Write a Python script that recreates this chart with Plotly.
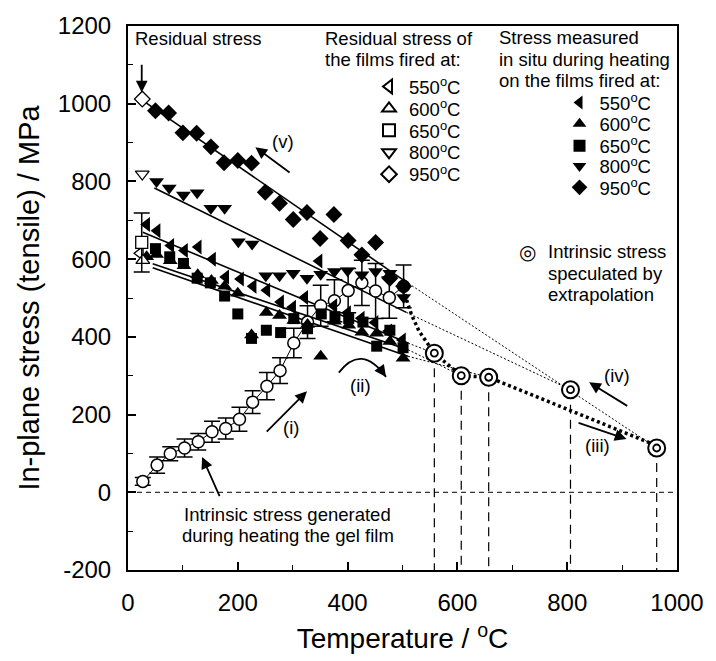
import plotly.graph_objects as go

FONT = "Liberation Sans, Arial, Helvetica, sans-serif"
Y_MIN, Y_MAX = -200, 1200
X_MIN, X_MAX = 0, 1000

# ---------------- data ----------------
# residual stress (open symbols, measured at room temperature)
res550_T, res550_S = [22], [615]
res600_T, res600_S = [27], [597]
res650_T, res650_S, res650_err = [25], [643], [76]
res800_T, res800_S = [26], [819]
res950_T, res950_S = [26], [1012]

# stress measured in situ during heating (filled symbols)
situ550_T = [34, 53, 78, 103, 128, 154, 178, 205, 228, 253, 278, 300, 322, 348, 375, 400, 425, 450, 475, 500]
situ550_S = [689, 673, 635, 622, 631, 600, 554, 549, 530, 520, 490, 476, 501, 595, 480, 462, 448, 437, 415, 392]
situ600_T = [34, 52, 77, 102, 127, 152, 176, 200, 225, 252, 276, 302, 327, 351, 376, 402, 426, 453, 477, 501]
situ600_S = [606, 612, 596, 583, 560, 545, 530, 512, 405, 463, 455, 442, 432, 350, 440, 430, 412, 409, 388, 345]
situ650_T = [50, 76, 101, 126, 150, 176, 200, 225, 252, 278, 302, 327, 352, 377, 402, 428, 453, 477, 501]
situ650_S = [627, 606, 589, 551, 539, 505, 459, 396, 417, 411, 447, 421, 459, 452, 447, 438, 376, 417, 372]
situ800_T = [52, 75, 101, 126, 151, 176, 201, 226, 251, 276, 301, 326, 351, 376, 400, 426, 451, 477, 502]
situ800_S = [800, 783, 765, 771, 731, 731, 645, 639, 557, 557, 564, 551, 561, 568, 570, 560, 568, 564, 501]
situ950_T = [50, 74, 100, 125, 151, 175, 200, 225, 250, 276, 301, 326, 350, 375, 401, 426, 451, 477, 502]
situ950_S = [982, 976, 925, 924, 889, 848, 854, 847, 772, 744, 702, 720, 653, 715, 648, 611, 643, 551, 530]

# intrinsic stress generated during heating the gel film
gel_T = [27, 53, 77, 103, 128, 153, 178, 203, 227, 253, 277, 302, 327, 351, 376, 401, 426, 451, 476, 502]
gel_S = [28, 70, 99, 114, 130, 156, 164, 188, 232, 273, 313, 384, 438, 480, 493, 519, 539, 518, 501, 530]
gel_err = [10, 21, 18, 23, 21, 27, 27, 31, 29, 35, 33, 38, 42, 53, 54, 57, 58, 71, 53, 55]

# intrinsic stress speculated by extrapolation (550, 600, 650, 800, 950 C films)
spec_T = [558, 607, 657, 806, 963]
spec_S = [358, 300, 296, 264, 114]

# linear fits of the in-situ data
fit550_T, fit550_S = [27, 510], [669, 384]
fit600_T, fit600_S = [45, 510], [588, 367]
fit650_T, fit650_S = [45, 510], [578, 350]
fit800_T, fit800_S = [48, 507], [783, 463]
fit950_T, fit950_S = [25, 505], [1010, 543]

# thick dotted path of the intrinsic stress (ii)-(iii)
path_T = [502, 508, 517, 530, 558, 607, 657, 963]
path_S = [525, 492, 455, 415, 358, 300, 296, 120]

y_tickvals = [-200, 0, 200, 400, 600, 800, 1000, 1200]
y_ticktext = ["-200", "0", "200", "400", "600", "800", "1000", "1200"]
x_tickvals = [0, 200, 400, 600, 800, 1000]
labels = ["550<sup>o</sup>C", "600<sup>o</sup>C", "650<sup>o</sup>C", "800<sup>o</sup>C", "950<sup>o</sup>C"]

fig = go.Figure()
K = "black"

def line(x, y, width=1.5, dash="solid"):
    fig.add_trace(go.Scatter(x=x, y=y, mode="lines", line=dict(color=K, width=width, dash=dash),
                             showlegend=False, hoverinfo="skip"))

# fit lines
fits = [(fit550_T, fit550_S), (fit600_T, fit600_S), (fit650_T, fit650_S),
        (fit800_T, fit800_S), (fit950_T, fit950_S)]
for fx, fy in fits:
    line(fx, fy, 1.6)

# thin dotted extrapolations: from end of each fit to its speculated point
for (fx, fy), t, s in zip(fits, spec_T, spec_S):
    line([fx[-1], t], [fy[-1], s], 1, "2px,2px")

# vertical dashed drop lines
vx, vy = [], []
for t, s in zip(spec_T, spec_S):
    vx += [t, t, None]
    vy += [s, Y_MIN, None]
line(vx, vy, 1.2, "9px,6px")

# thick dotted intrinsic path
line(path_T, path_S, 3.5, "3px,3px")

# gel-film intrinsic stress with error bars
fig.add_trace(go.Scatter(x=gel_T, y=gel_S, mode="lines+markers",
                         line=dict(color=K, width=1),
                         marker=dict(symbol="circle", size=12, color="white", line=dict(color=K, width=1.5)),
                         error_y=dict(type="data", array=gel_err, color=K, thickness=1.5, width=8),
                         showlegend=False, hoverinfo="skip"))

# each legend row is its own small legend so the rows sit at the reference spacing
res_legends = ["legend", "legend2", "legend3", "legend4", "legend5"]
situ_legends = ["legend6", "legend7", "legend8", "legend9", "legend10"]

# in situ filled symbols
situ = [(situ550_T, situ550_S, "triangle-left", 13),
        (situ600_T, situ600_S, "triangle-up", 13),
        (situ650_T, situ650_S, "square", 11),
        (situ800_T, situ800_S, "triangle-down", 13),
        (situ950_T, situ950_S, "diamond", 13)]
for (tx, sy, sym, sz), lab, lg in zip(situ, labels, situ_legends):
    fig.add_trace(go.Scatter(x=tx, y=sy, mode="markers", name=lab, legend=lg,
                             marker=dict(symbol=sym, size=sz, color=K, line=dict(width=0)),
                             hoverinfo="skip"))

# residual open symbols
res = [(res550_T, res550_S, "triangle-left", None),
       (res600_T, res600_S, "triangle-up", None),
       (res650_T, res650_S, "square", res650_err),
       (res800_T, res800_S, "triangle-down", None),
       (res950_T, res950_S, "diamond", None)]
for (tx, sy, sym, err), lab, lg in zip(res, labels, res_legends):
    kw = {}
    if err is not None:
        kw["error_y"] = dict(type="data", array=err, color=K, thickness=1.5, width=8)
    fig.add_trace(go.Scatter(x=tx, y=sy, mode="markers", name=lab, legend=lg,
                             marker=dict(symbol=sym, size=12, color="white", line=dict(color=K, width=1.3)),
                             hoverinfo="skip", **kw))

# speculated intrinsic stress: double circles
fig.add_trace(go.Scatter(x=spec_T, y=spec_S, mode="markers", showlegend=False,
                         marker=dict(symbol="circle", size=17, color="white", line=dict(color=K, width=2)),
                         hoverinfo="skip"))
fig.add_trace(go.Scatter(x=spec_T, y=spec_S, mode="markers", showlegend=False,
                         marker=dict(symbol="circle-open", size=7, color=K, line=dict(color=K, width=1.8)),
                         hoverinfo="skip"))

# curved arrow (ii)
fig.add_shape(type="path", xref="x", yref="y", path="M 384,308 Q 425,384 470,297",
              line=dict(color=K, width=1.8))

TS = 18.5
ann = []
def text(x, y, s, xanchor="center", size=TS):
    ann.append(dict(x=x, y=y, xref="x", yref="y", text=s, showarrow=False, xanchor=xanchor,
                    yanchor="middle", font=dict(family=FONT, size=size, color=K)))

def arrow(x, y, ax, ay):
    ann.append(dict(x=x, y=y, ax=ax, ay=ay, xref="x", yref="y", axref="x", ayref="y", text="",
                    showarrow=True, arrowhead=2, arrowsize=1.3, arrowwidth=1.8, arrowcolor=K))

text(10, 1167, "Residual stress", "left")
arrow(25, 1029, 25, 1104)
text(356, 1167, "Residual stress of", "left")
text(356, 1115, "the films fired at:", "left")
text(672, 1171, "Stress measured", "left")
text(672, 1114, "in situ during heating", "left")
text(672, 1059, "on the films fired at:", "left")
text(728, 619, "◎", "center", 20)
text(761, 619, "Intrinsic stress", "left")
text(761, 564, "speculated by", "left")
text(761, 509, "extrapolation", "left")
text(291, -57, "Intrinsic stress generated", "center")
text(291, -110, "during heating the gel film", "center")
arrow(135, 91, 168, -14)

text(282, 903, "(v)")
arrow(232, 888, 297, 820)
text(297, 167, "(i)")
arrow(326, 260, 250, 152)
text(423, 275, "(ii)")
ann.append(dict(x=470, y=297, ax=-8, ay=-11, xref="x", yref="y", text="", showarrow=True,
                arrowhead=2, arrowsize=1.3, arrowwidth=1.8, arrowcolor=K))
text(855, 120, "(iii)")
arrow(908, 137, 818, 180)
text(891, 300, "(iv)")
arrow(840, 283, 912, 220)

leg_common = dict(bgcolor="rgba(0,0,0,0)", borderwidth=0, font=dict(family=FONT, size=TS, color=K),
                  xanchor="left", yanchor="top", tracegroupgap=0, itemsizing="constant")
res_leg_y = [0.9229, 0.8826, 0.8423, 0.8020, 0.7616]
situ_leg_y = [0.8935, 0.8545, 0.8140, 0.7765, 0.7375]
legends = {}
for name, yy in zip(res_legends, res_leg_y):
    legends[name] = dict(x=0.439, y=yy, **leg_common)
for name, yy in zip(situ_legends, situ_leg_y):
    legends[name] = dict(x=0.786, y=yy, **leg_common)

axis_common = dict(ticks="inside", ticklen=8, tickwidth=1.5, tickcolor=K,
                   minor=dict(dtick=100, ticks="inside", ticklen=5, tickwidth=1.2, tickcolor=K),
                   showline=True, linewidth=2, linecolor=K, mirror=True, showgrid=False, zeroline=False,
                   tickfont=dict(family=FONT, size=24, color=K), ticklabelstandoff=10)
fig.update_layout(
    width=716, height=661,
    margin=dict(l=128, r=32, t=21, b=82),
    paper_bgcolor="white", plot_bgcolor="white",
    font=dict(family=FONT, color=K),
    annotations=ann,
    shapes=list(fig.layout.shapes) + [dict(type="line", xref="paper", yref="y", x0=0, x1=1, y0=0, y1=0,
                                           line=dict(color=K, width=1, dash="5px,4px"))],
    xaxis=dict(range=[X_MIN, X_MAX], tickvals=x_tickvals, **axis_common,
               title=dict(text="Temperature / <sup>o</sup>C", font=dict(family=FONT, size=28, color=K), standoff=14)),
    yaxis=dict(range=[Y_MIN, Y_MAX], tickvals=y_tickvals, ticktext=y_ticktext, **axis_common,
               title=dict(text="In-plane stress (tensile) / MPa", font=dict(family=FONT, size=29, color=K), standoff=10)),
    **legends,
)

fig.write_html("out.html")
